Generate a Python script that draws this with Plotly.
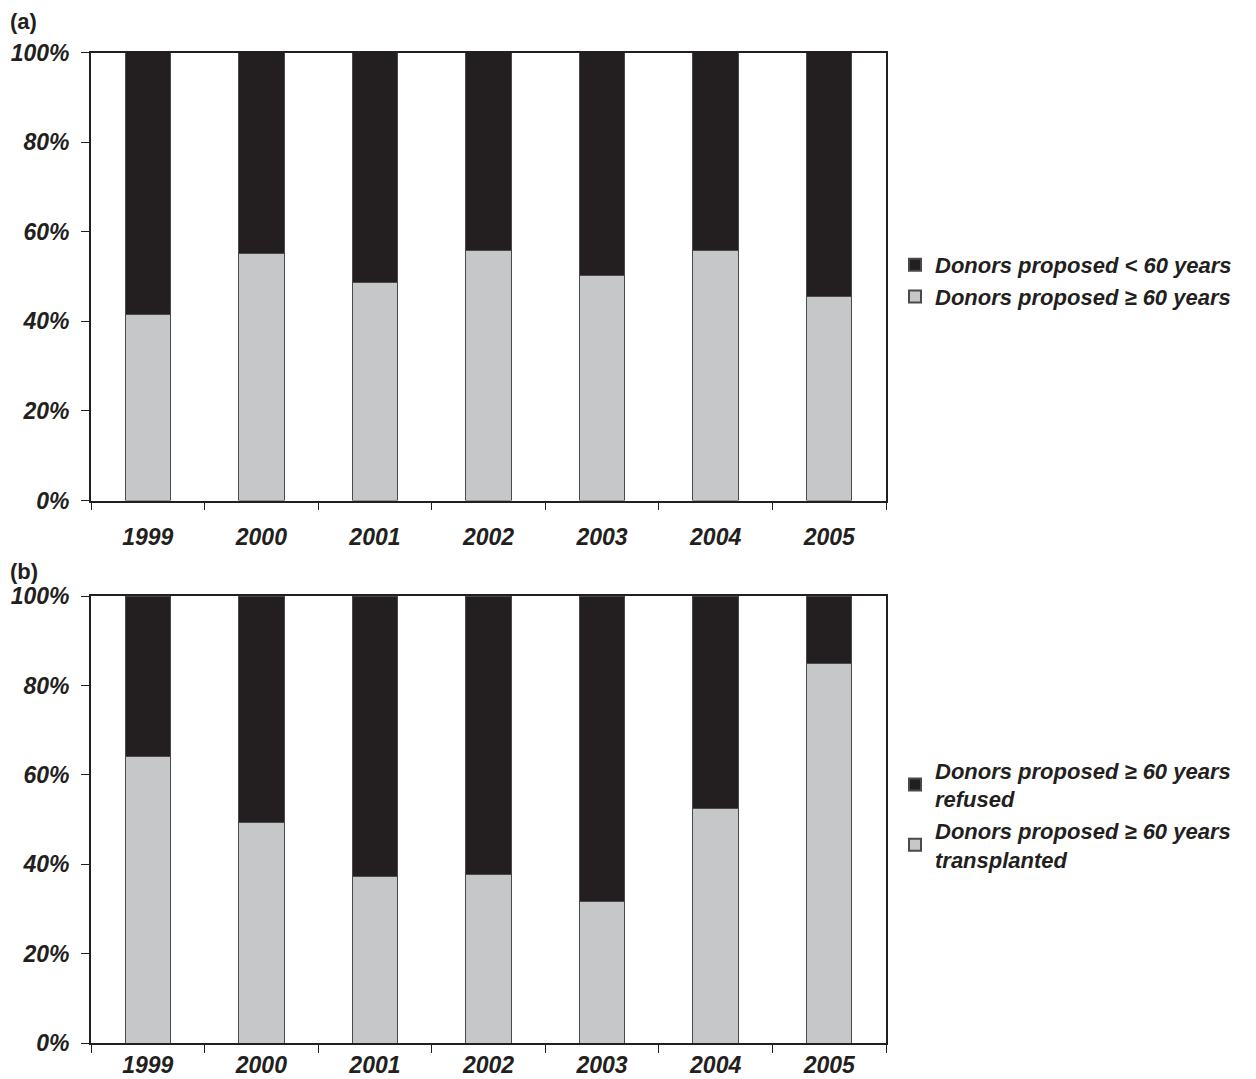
import plotly.graph_objects as go

# Years on the category axis
years = ["1999", "2000", "2001", "2002", "2003", "2004", "2005"]

# Panel (a): share of donors proposed, by age group (%)
under60_a = [58.4, 44.8, 51.3, 44.3, 49.7, 44.1, 54.4]
over60_a = [41.6, 55.2, 48.7, 55.7, 50.3, 55.9, 45.6]

# Panel (b): outcome of donors proposed aged >= 60 (%)
refused_b = [35.8, 50.6, 62.7, 62.2, 68.4, 47.6, 15.2]
transplanted_b = [64.2, 49.4, 37.3, 37.8, 31.6, 52.4, 84.8]

# Percentage axis ticks
pct_ticks = [0, 20, 40, 60, 80, 100]
pct_labels = ["0%", "20%", "40%", "60%", "80%", "100%"]

DARK = "#231f20"
GREY = "#c6c7c9"
EDGE = "#4a4a4a"
FONT = "Liberation Sans, Arial, Helvetica, sans-serif"
BAR_W = 0.40

fig = go.Figure()

def add_bar(y, name, color, xa, ya, legend):
    fig.add_trace(go.Bar(
        x=years, y=y, name=name, width=BAR_W,
        marker=dict(color=color, line=dict(color=EDGE, width=1)),
        xaxis=xa, yaxis=ya, legend=legend,
    ))

add_bar(over60_a, "Donors proposed ≥ 60 years", GREY, "x", "y", "legend")
add_bar(under60_a, "Donors proposed < 60 years", DARK, "x", "y", "legend")
add_bar(transplanted_b, "Donors proposed ≥ 60 years<br>transplanted", GREY, "x2", "y2", "legend2")
add_bar(refused_b, "Donors proposed ≥ 60 years<br>refused", DARK, "x2", "y2", "legend2")

W, H = 1256, 1079
x_dom = [91 / W, 886 / W]
ya_dom = [1 - 500.5 / H, 1 - 52.5 / H]
yb_dom = [1 - 1043.3 / H, 1 - 596 / H]

tick_font = dict(family=FONT, size=23, color="#231f20", weight="bold", style="italic")

def xaxis_cfg(anchor, standoff):
    return dict(
        domain=x_dom, anchor=anchor, type="category", range=[-0.5, 6.5],
        tickson="boundaries", ticks="outside", ticklen=8, tickwidth=1.2,
        tickcolor="#231f20", showline=True, linecolor="#231f20", linewidth=1.5,
        mirror=True, showgrid=False, zeroline=False, tickfont=tick_font,
        ticklabelstandoff=standoff, fixedrange=True, automargin=False,
    )

def yaxis_cfg(anchor, dom):
    return dict(
        domain=dom, anchor=anchor, range=[0, 100],
        tickmode="array", tickvals=pct_ticks, ticktext=pct_labels,
        ticks="outside", ticklen=8, tickwidth=1.2,
        tickcolor="#231f20", showline=True, linecolor="#231f20", linewidth=1.8,
        mirror=True, showgrid=False, zeroline=False, tickfont=tick_font,
        ticklabelstandoff=7, fixedrange=True, automargin=False,
    )

legend_font = dict(family=FONT, size=22, color="#231f20", weight="bold", style="italic")

fig.update_layout(
    width=W, height=H,
    margin=dict(l=0, r=0, t=0, b=0),
    paper_bgcolor="white", plot_bgcolor="white",
    barmode="stack", bargap=0.6,
    xaxis=xaxis_cfg("y", 15), yaxis=yaxis_cfg("x", ya_dom),
    xaxis2=xaxis_cfg("y2", 0), yaxis2=yaxis_cfg("x2", yb_dom),
    legend=dict(
        x=895 / W, y=1 - 281 / H, xanchor="left", yanchor="middle",
        traceorder="reversed", font=legend_font, bgcolor="rgba(0,0,0,0)",
        itemsizing="constant",
    ),
    legend2=dict(
        x=895 / W, y=1 - 815 / H, xanchor="left", yanchor="middle",
        traceorder="reversed", font=legend_font, bgcolor="rgba(0,0,0,0)",
        itemsizing="constant",
    ),
    annotations=[
        dict(text="(a)", x=8 / W, y=1 - 21 / H, xref="paper", yref="paper",
             xanchor="left", yanchor="middle", showarrow=False,
             font=dict(family=FONT, size=22, color="#231f20", weight="bold")),
        dict(text="(b)", x=8 / W, y=1 - 571 / H, xref="paper", yref="paper",
             xanchor="left", yanchor="middle", showarrow=False,
             font=dict(family=FONT, size=22, color="#231f20", weight="bold")),
    ],
)

fig.write_html("out.html")
